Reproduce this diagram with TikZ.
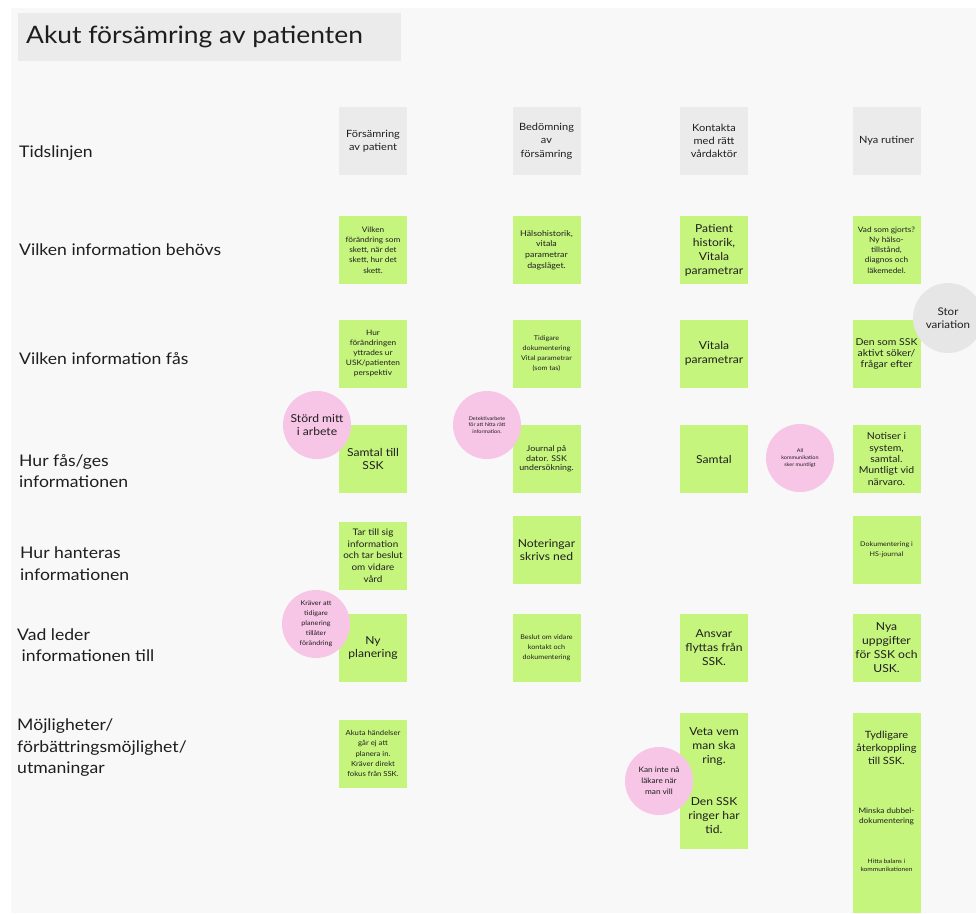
\documentclass[tikz,border=0pt]{standalone}
\usepackage{fontspec}
\setmainfont{Lato}[FakeStretch=1.1]
\definecolor{canvas}{HTML}{F8F8F8}
\definecolor{stickygreen}{HTML}{C6F57E}
\definecolor{headgray}{HTML}{EBEBEB}
\definecolor{notepink}{HTML}{F7C5E6}
\definecolor{notegray}{HTML}{E6E6E6}
\definecolor{ink}{HTML}{1E1E1E}
\newcommand{\fsz}[2]{\fontsize{#1}{#2}\selectfont}
\tikzset{
  sticky/.style={fill=stickygreen, draw=none, minimum width=68, minimum height=68,
    inner sep=0pt, align=center, text=ink},
  headbox/.style={sticky, fill=headgray},
  bubble/.style={circle, fill=notepink, draw=none, minimum size=68, inner sep=0pt,
    align=center, text=ink},
  rowlabel/.style={anchor=west, align=left, inner sep=0pt, text=ink, font=\fsz{16}{21.5}},
  txt/.style={align=center, inner sep=0pt, text=ink},
}
\begin{document}
\begin{tikzpicture}[x=1pt,y=-1pt]
% canvas
\fill[white] (0,0) rectangle (976,913);
\fill[canvas] (11,8) rectangle (976,913);
\useasboundingbox (0,0) rectangle (976,913);

% title
\node[fill=headgray, minimum width=383, minimum height=48, inner sep=0pt] (titlebox) at (209.5,37) {};
\node[anchor=west, inner sep=0pt, text=ink, font=\fsz{24}{28}] (title) at (26,37) {Akut försämring av patienten};

% row labels
\node[rowlabel] (l1) at (19,153) {Tidslinjen};
\node[rowlabel] (l2) at (19,250) {Vilken information behövs};
\node[rowlabel] (l3) at (19,359) {Vilken information fås};
\node[rowlabel] (l4) at (19,471) {Hur fås/ges\\informationen};
\node[rowlabel] (l5) at (20,563.5) {Hur hanteras\\informationen};
\node[rowlabel] (l6) at (17,645) {Vad leder\\\ informationen till};
\node[rowlabel] (l7) at (17,748) {Möjligheter/\\förbättringsmöjlighet/\\utmaningar};

% timeline headers
\node[headbox, font=\fsz{10}{13.3}] (h1) at (373,141) {Försämring\\av patient};
\node[headbox, font=\fsz{10}{13.3}] (h2) at (546.5,141) {Bedömning\\av\\försämring};
\node[headbox, font=\fsz{10}{13.3}] (h3) at (714,141) {Kontakta\\med rätt\\vårdaktör};
\node[headbox, font=\fsz{10}{13.3}] (h4) at (886.5,141) {Nya rutiner};

% information needed
\node[sticky, font=\fsz{7.5}{10.2}] (a1) at (373,250) {Vilken\\förändring som\\skett, när det\\skett, hur det\\skett.};
\node[sticky, font=\fsz{8}{10.8}] (a2) at (546.5,250) {Hälsohistorik,\\vitala\\parametrar\\dagsläget.};
\node[sticky, font=\fsz{11}{14}] (a3) at (714,250) {Patient\\historik,\\Vitala\\parametrar};
\node[sticky, font=\fsz{7.5}{10.2}] (a4) at (886.5,250) {Vad som gjorts?\\Ny hälso-\\tillstånd,\\diagnos och\\läkemedel.};

% information received
\node[sticky, font=\fsz{7.5}{10.2}] (b1) at (373,353.5) {Hur\\förändringen\\yttrades ur\\USK/patienten\\perspektiv};
\node[sticky, font=\fsz{6.5}{10}] (b2) at (546.5,353.5) {Tidigare\\dokumentering\\Vital parametrar\\(som tas)};
\node[sticky, font=\fsz{11}{13.5}] (b3) at (714,353.5) {Vitala\\parametrar};
\node[sticky, font=\fsz{9.5}{11}] (b4) at (886.5,353.5) {Den som SSK\\aktivt söker/\\frågar efter};

% how information is given
\node[sticky, font=\fsz{11}{13.5}] (c1) at (373,459) {Samtal till\\SSK};
\node[sticky, font=\fsz{8}{9.5}] (c2) at (546.5,459) {Journal på\\dator. SSK\\undersökning.};
\node[sticky, font=\fsz{11}{13.5}] (c3) at (714,459) {Samtal};
\node[sticky, font=\fsz{9.5}{11.3}] (c4) at (886.5,459) {Notiser i\\system,\\samtal.\\Muntligt vid\\närvaro.};

% how information is handled
\node[sticky, font=\fsz{9}{11.7}] (d1) at (373,555.5) {Tar till sig\\information\\och tar beslut\\om vidare\\vård};
\node[sticky, font=\fsz{11}{13.5}] (d2) at (546.5,550) {Noteringar\\skrivs ned};
\node[sticky, font=\fsz{6.5}{10}] (d4) at (886.5,550) {Dokumentering i\\HS-journal};

% what it leads to
\node[sticky, font=\fsz{11}{13.5}] (e1) at (373,648) {Ny\\planering};
\node[sticky, font=\fsz{6.5}{10}] (e2) at (546.5,648) {Beslut om vidare\\kontakt och\\dokumentering};
\node[sticky, font=\fsz{11}{14}] (e3) at (714,648) {Ansvar\\flyttas från\\SSK.};
\node[sticky, font=\fsz{11}{14}] (e4) at (886.5,648) {Nya\\uppgifter\\för SSK och\\USK.};

% opportunities / challenges
\node[sticky, font=\fsz{7}{10.2}] (f1) at (373,753.5) {Akuta händelser\\går ej att\\planera in.\\Kräver direkt\\fokus från SSK.};
\node[sticky, minimum height=136] (f3) at (714,781) {};
\node[txt, font=\fsz{11}{14}] (f3a) at (714,747) {Veta vem\\man ska\\ring.};
\node[txt, font=\fsz{11}{14}] (f3b) at (714,816) {Den SSK\\ringer har\\tid.};
\node[sticky, minimum height=200] (f4) at (886.5,813) {};
\node[txt, font=\fsz{10}{13}] (f4a) at (886.5,748) {Tydligare\\återkoppling\\till SSK.};
\node[txt, font=\fsz{7.5}{10}] (f4b) at (886.5,816) {Minska dubbel-\\dokumentering};
\node[txt, font=\fsz{6}{7.6}] (f4c) at (886.5,865) {Hitta balans i\\kommunikationen};

% comment bubbles
\node[bubble, font=\fsz{11}{13.5}] (p1) at (317,425) {Störd mitt\\i arbete};
\node[bubble, font=\fsz{5}{6.8}] (p2) at (487,425) {Detektivarbete\\för att hitta rätt\\information.};
\node[bubble, font=\fsz{5}{6.8}] (p3) at (800,458) {All\\kommunikation\\sker muntligt};
\node[bubble, fill=notegray, minimum size=70, font=\fsz{10.5}{13}] (p4) at (948,318) {Stor\\variation};
\node[bubble, font=\fsz{6.5}{10}] (p5) at (316,624) {Kräver att\\tidigare\\planering\\tillåter\\förändring};
\node[bubble, font=\fsz{7.5}{11}] (p6) at (659,781) {Kan inte nå\\läkare när\\man vill};
\end{tikzpicture}
\end{document}
